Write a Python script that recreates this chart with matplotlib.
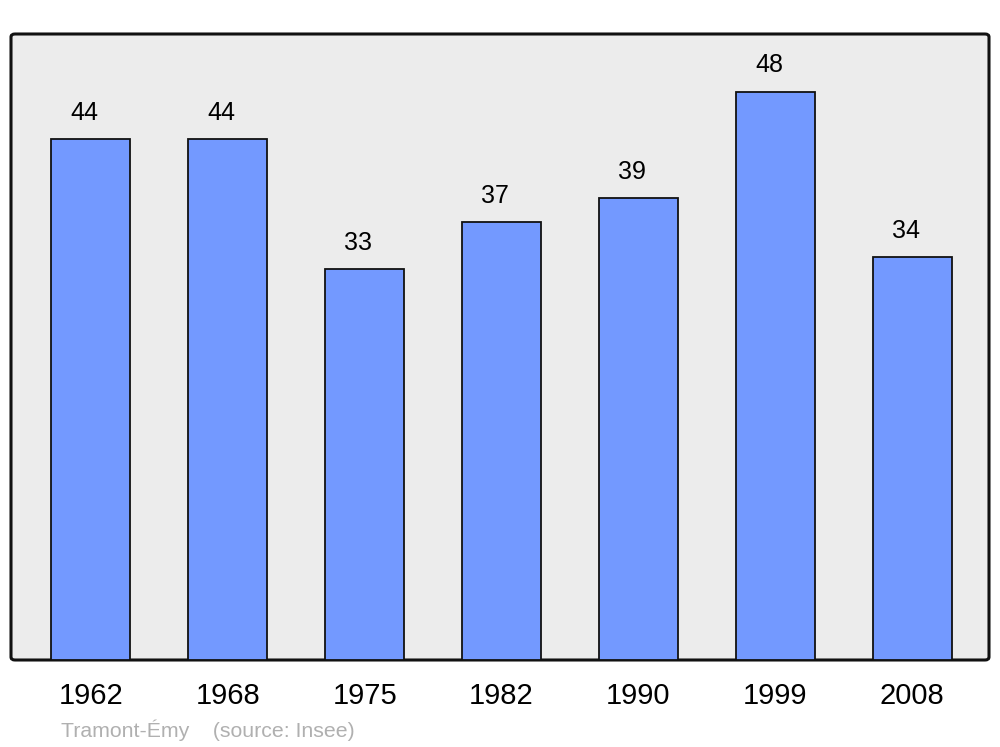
import matplotlib
matplotlib.use("Agg")
import matplotlib.pyplot as plt
from matplotlib.patches import FancyBboxPatch

years = ["1962", "1968", "1975", "1982", "1990", "1999", "2008"]
population = [44, 44, 33, 37, 39, 48, 34]
commune = "Tramont-Émy"
source = "(source: Insee)"

plt.rcParams['font.family'] = ['Liberation Sans', 'DejaVu Sans']

fig = plt.figure(figsize=(10, 7.47), dpi=100)
W, H = 1000, 747
left, right, top, bottom = 11, 989, 34, 660
ax = fig.add_axes([left / W, 1 - bottom / H, (right - left) / W, (bottom - top) / H])
ax.set_facecolor('none')

# rounded frame
frame = FancyBboxPatch((left / W, 1 - bottom / H), (right - left) / W, (bottom - top) / H,
                       boxstyle="round,pad=0,rounding_size=0.004",
                       transform=fig.transFigure, facecolor='#ececec',
                       edgecolor='#111111', linewidth=2.2, zorder=0, clip_on=False)
ax.add_artist(frame)

x = list(range(len(years)))
bars = ax.bar(x, population, width=0.577, color='#7399ff', edgecolor='#111111',
              linewidth=1.3, zorder=2)
for xi, v in zip(x, population):
    ax.text(xi - 0.045, v + 1.2, str(v), ha='center', va='bottom', fontsize=18, color='#000000')

ax.set_xlim(-0.584, 6.562)
ax.set_ylim(0, 52.87)
ax.set_yticks([])
ax.set_xticks(x)
ax.set_xticklabels(years, fontsize=21)
ax.tick_params(axis='x', length=0, pad=16)
for s in ax.spines.values():
    s.set_visible(False)

fig.text(61 / W, 1 - 730 / H, commune + "    " + source, fontsize=15.3,
         color='#b0b0b0', ha='left', va='center')

fig.savefig("out.png", dpi=100)
